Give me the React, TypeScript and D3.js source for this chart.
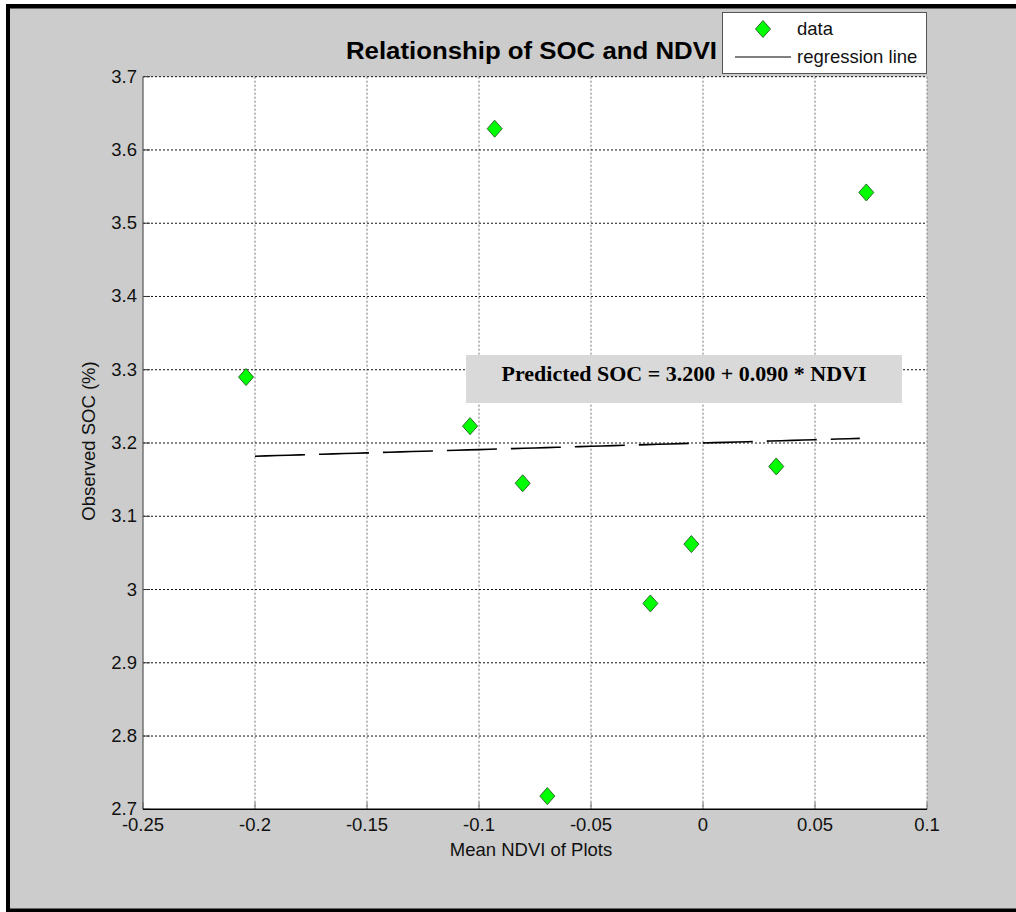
import React from "react";
import * as d3 from "d3";

// mean NDVI of each plot and the observed SOC (%)
const ndvi = [-0.204, -0.104, -0.093, -0.0805, -0.0695, -0.0235, -0.0052, 0.0327, 0.0729];
const soc = [3.290, 3.223, 3.629, 3.145, 2.718, 2.981, 3.062, 3.168, 3.542];

// fitted line: SOC = 3.200 + 0.090 * NDVI, drawn over this NDVI span
const fitIntercept = 3.2;
const fitSlope = 0.09;
const fitRange = [-0.2, 0.07];

const xTicks = [-0.25, -0.2, -0.15, -0.1, -0.05, 0, 0.05, 0.1];
const yTicks = [2.7, 2.8, 2.9, 3, 3.1, 3.2, 3.3, 3.4, 3.5, 3.6, 3.7];

const W = 1016;
const H = 912;
const margin = { left: 143, top: 76.7, right: 927, bottom: 809.3 };

const font = "Arial, 'Liberation Sans', sans-serif";

const App = () => {
    const x = d3.scaleLinear().domain([-0.25, 0.1]).range([margin.left, margin.right]);
    const y = d3.scaleLinear().domain([2.7, 3.7]).range([margin.bottom, margin.top]);

    const points = ndvi.map((v, i) => ({ x: v, y: soc[i] }));

    const fitLine = d3.line<number>()
        .x(d => x(d))
        .y(d => y(fitIntercept + fitSlope * d));

    // diamond marker, a bit taller than wide
    const diamond = (cx: number, cy: number) =>
        `M${cx},${cy - 8.5} L${cx + 7.5},${cy} L${cx},${cy + 8.5} L${cx - 7.5},${cy} Z`;

    const fmt = (v: number) => (v === 0 ? "0" : String(+v.toFixed(2)));

    return (
        <svg width={W} height={H} style={{ position: "absolute", left: 0, top: 0, display: "block" }}>
            <rect x={0} y={0} width={W} height={H} fill="#fff" />
            {/* figure frame */}
            <rect x={6} y={4} width={W} height={H - 4} fill="#000" />
            <rect x={10} y={8.5} width={W} height={H - 12} fill="#cccccc" />

            {/* axes area */}
            <rect x={margin.left} y={margin.top} width={margin.right - margin.left}
                height={margin.bottom - margin.top} fill="#fff" />

            {/* grid */}
            {xTicks.slice(1).map(t => (
                <line key={"gx" + t} x1={x(t)} x2={x(t)} y1={margin.top} y2={margin.bottom}
                    stroke="#777" strokeDasharray="2,2" strokeWidth={1} />
            ))}
            {yTicks.slice(1).map(t => (
                <line key={"gy" + t} x1={margin.left} x2={margin.right} y1={y(t)} y2={y(t)}
                    stroke="#111" strokeDasharray="2,2" strokeWidth={1} />
            ))}

            {/* ticks (inward) */}
            {xTicks.map(t => (
                <line key={"tx" + t} x1={x(t)} x2={x(t)} y1={margin.bottom} y2={margin.bottom - 7}
                    stroke="#777" />
            ))}
            {yTicks.map(t => (
                <line key={"ty" + t} x1={margin.left} x2={margin.left + 7} y1={y(t)} y2={y(t)}
                    stroke="#333" />
            ))}

            {/* axis lines */}
            <line x1={margin.left} x2={margin.left} y1={margin.top} y2={margin.bottom} stroke="#555" strokeWidth={1.2} />
            <line x1={margin.left} x2={margin.right} y1={margin.bottom} y2={margin.bottom} stroke="#000" strokeWidth={1.5} />

            {/* tick labels */}
            {xTicks.map(t => (
                <text key={"lx" + t} x={x(t)} y={831} textAnchor="middle" fontFamily={font} fontSize={18.5} fill="#111">
                    {fmt(t)}
                </text>
            ))}
            {yTicks.map(t => (
                <text key={"ly" + t} x={137} y={y(t) + 6} textAnchor="end" fontFamily={font} fontSize={18.5} fill="#111">
                    {fmt(t)}
                </text>
            ))}

            {/* axis titles */}
            <text x={531} y={856} textAnchor="middle" fontFamily={font} fontSize={18.5} fill="#111">
                Mean NDVI of Plots
            </text>
            <text transform={`translate(95,441) rotate(-90)`} textAnchor="middle" fontFamily={font}
                fontSize={18.5} fill="#111">
                Observed SOC (%)
            </text>
            <text x={346} y={59} fontFamily={font} fontSize={23} fontWeight="bold" fill="#000"
                textLength={371} lengthAdjust="spacingAndGlyphs">
                Relationship of SOC and NDVI
            </text>

            {/* equation box */}
            <rect x={466} y={355} width={436} height={48} fill="#d9d9d9" />
            <text x={684} y={381} textAnchor="middle" fontFamily="'Liberation Serif', 'Times New Roman', serif"
                fontSize={22} fontWeight="bold" fill="#000">
                Predicted SOC = 3.200 + 0.090 * NDVI
            </text>

            {/* regression line */}
            <path d={fitLine(d3.range(fitRange[0], fitRange[1] + 0.0001, 0.005)) || ""} fill="none"
                stroke="#000" strokeWidth={1.6} strokeDasharray="50,14" />

            {/* data */}
            {points.map((p, i) => (
                <path key={"p" + i} d={diamond(x(p.x), y(p.y))} fill="#00ff00" stroke="#2d6b2d" strokeWidth={1} />
            ))}

            {/* legend */}
            <rect x={722.5} y={12.5} width={204} height={61} fill="#fff" stroke="#555" strokeWidth={1} />
            <path d={diamond(763, 29)} fill="#00ff00" stroke="#2d6b2d" strokeWidth={1} />
            <text x={797} y={35} fontFamily={font} fontSize={18.5} fill="#111">data</text>
            <line x1={735} x2={791} y1={57} y2={57} stroke="#000" strokeWidth={1} />
            <text x={797} y={63} fontFamily={font} fontSize={18.5} fill="#111">regression line</text>
        </svg>
    );
};

export default App;
